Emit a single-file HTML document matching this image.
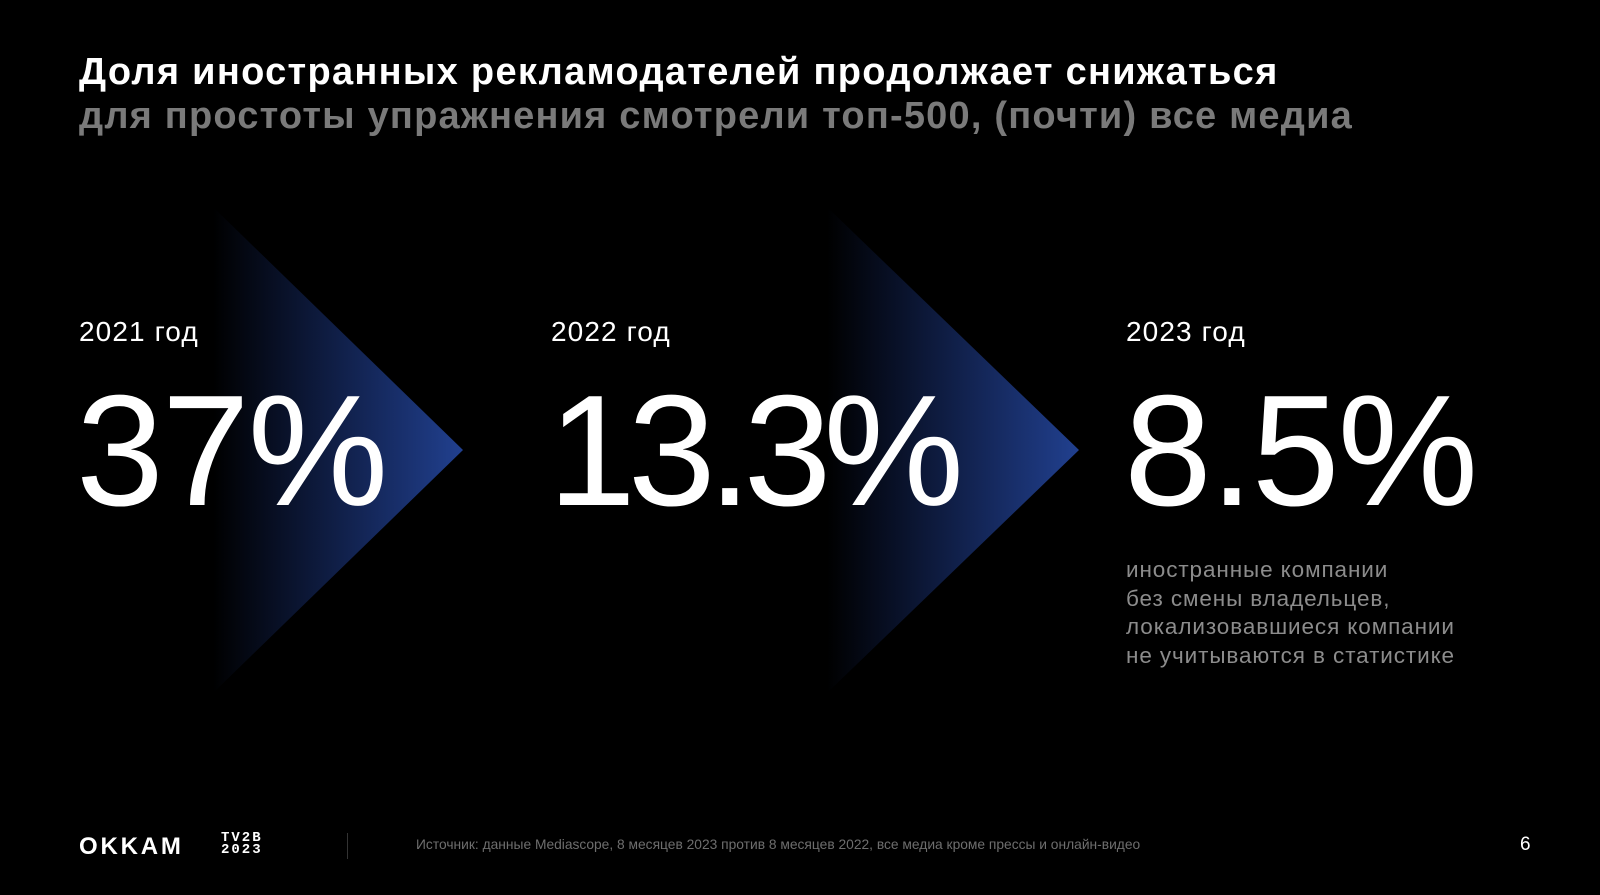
<!DOCTYPE html>
<html><head><meta charset="utf-8"><style>
body{margin:0;width:1600px;height:895px;background:#000;overflow:hidden;position:relative;font-family:"Liberation Sans","DejaVu Sans",sans-serif;color:#fff}
.a{position:absolute;white-space:nowrap}
.title{left:79px;top:51px;font-size:38px;font-weight:bold;letter-spacing:1.3px}
.sub{left:79px;top:95px;font-size:38px;font-weight:bold;color:#7a7a7a;letter-spacing:1.2px}
.yr{font-size:28px;top:316px;letter-spacing:1.1px}
.num{font-size:158px;top:365px;letter-spacing:-2px;line-height:1.1}
.note{left:1126px;top:556px;font-size:22.5px;line-height:28.6px;color:#8c8c8c;letter-spacing:0.9px}
</style></head><body>
<svg class="a" style="left:0;top:0" width="1600" height="895">
<defs><linearGradient id="g" x1="0" x2="1" y1="0" y2="0"><stop offset="0" stop-color="#1f3c90" stop-opacity="0"/><stop offset="1" stop-color="#21408f"/></linearGradient></defs>
<polygon points="213,207 463,450 213,693" fill="url(#g)"/>
<polygon points="827,207 1079,450 827,693" fill="url(#g)"/>
</svg>
<div class="a title">Доля иностранных рекламодателей продолжает снижаться</div>
<div class="a sub">для простоты упражнения смотрели топ-500, (почти) все медиа</div>
<div class="a yr" style="left:79px">2021 год</div>
<div class="a yr" style="left:551px">2022 год</div>
<div class="a yr" style="left:1126px">2023 год</div>
<div class="a num" style="left:76px">37%</div>
<div class="a num" style="left:548px;letter-spacing:-8px">13.3%</div>
<div class="a num" style="left:1124px">8.5%</div>
<div class="a note">иностранные компании<br>без смены владельцев,<br>локализовавшиеся компании<br>не учитываются в статистике</div>
<div class="a" style="left:79px;top:833px;font-size:24px;font-weight:900;letter-spacing:2.8px">OKKAM</div>
<div class="a" style="left:221px;top:832px;font-size:14px;line-height:12px;font-weight:bold;letter-spacing:2px;font-family:'Liberation Mono',monospace">TV2B<br>2023</div>
<div class="a" style="left:347px;top:833px;width:1px;height:26px;background:#333"></div>
<div class="a" style="left:416px;top:837px;font-size:13.8px;color:#6e6e6e">Источник: данные Mediascope, 8 месяцев 2023 против 8 месяцев 2022, все медиа кроме прессы и онлайн-видео</div>
<div class="a" style="left:1520px;top:834px;font-size:19px">6</div>
</body></html>
